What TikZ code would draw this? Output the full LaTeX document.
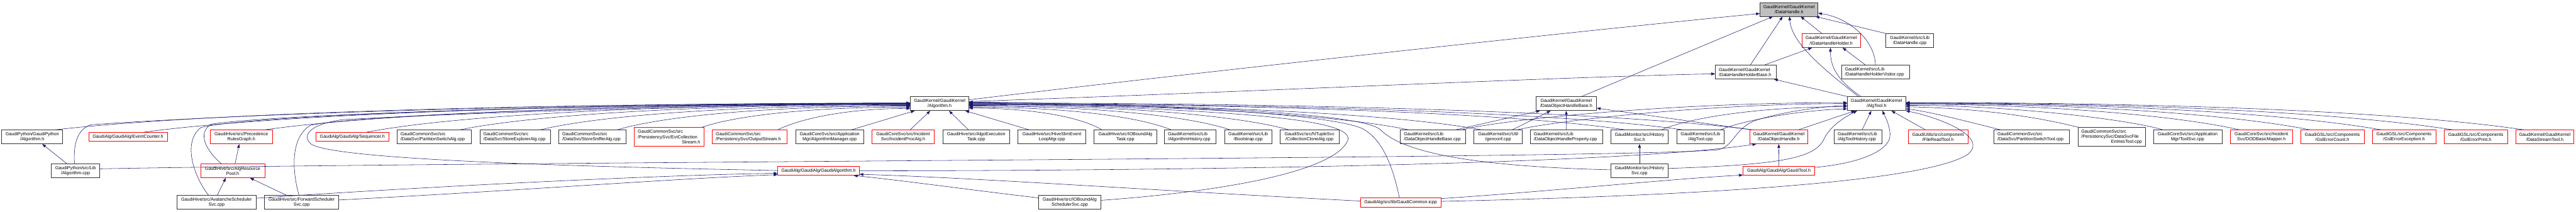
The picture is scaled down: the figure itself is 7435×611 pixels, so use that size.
\documentclass[tikz,border=0pt]{standalone}
\usepackage{fontspec}
\setmainfont{Liberation Sans}
\usetikzlibrary{arrows.meta,calc}
\definecolor{mblue}{RGB}{25,25,112}
\newcommand{\fs}{\fontsize{13}{15}\selectfont}
\newcommand{\gnode}[7]{\node[#6, minimum width={#3-#2}, minimum height={#5-#4}] (#1) at ({(#2+#3)/2},{(#4+#5)/2}) {#7};}
\tikzset{
 nb/.style={draw=black!80, line width=1.2pt, fill=white, inner sep=0pt, font=\fs, align=center},
 nr/.style={nb, draw=red},
 ng/.style={nb, fill=black!25},
 la/.style={align=left, text width=#1pt},
 e/.style={draw=mblue, line width=1pt, -{Triangle[length=11pt,width=8pt]}},
}
\begin{document}
\begin{tikzpicture}[x=1pt,y=-1pt]
\path[fill=white,use as bounding box] (0,0) rectangle (7435,611);
% Row A-C
\gnode{dh}{5080}{5247}{7}{47}{ng}{GaudiKernel/GaudiKernel\\/DataHandle.h}
\gnode{idhh}{5201}{5369}{97}{137}{nr}{GaudiKernel/GaudiKernel\\/IDataHandleHolder.h}
\gnode{dhcpp}{5443}{5581}{97}{137}{nb}{GaudiKernel/src/Lib\\/DataHandle.cpp}
\gnode{dhhb}{4951}{5126}{188}{228}{nb,la=155}{GaudiKernel/GaudiKernel\\/DataHandleHolderBase.h}
\gnode{dhhv}{5315}{5511}{188}{228}{nb,la=176}{GaudiKernel/src/Lib\\/DataHandleHolderVisitor.cpp}
% Row D
\gnode{alg}{2628}{2796}{279}{319}{nb}{GaudiKernel/GaudiKernel\\/Algorithm.h}
\gnode{dohb}{4433}{4608}{279}{319}{nb}{GaudiKernel/GaudiKernel\\/DataObjectHandleBase.h}
\gnode{algtool}{5332}{5500}{279}{319}{nb}{GaudiKernel/GaudiKernel\\/AlgTool.h}
% Row E
\gnode{gpalgh}{5}{181}{375}{415}{nb}{GaudiPython/GaudiPython\\/Algorithm.h}
\gnode{evc}{256}{483}{382}{408}{nr}{GaudiAlg/GaudiAlg/EventCounter.h}
\gnode{prec}{607}{786}{375}{415}{nr}{GaudiHive/src/Precedence\\RulesGraph.h}
\gnode{seq}{912}{1122}{382}{408}{nr}{GaudiAlg/GaudiAlg/Sequencer.h}
\gnode{pswalg}{1146}{1360}{375}{415}{nb,la=194}{GaudiCommonSvc/src\\/DataSvc/PartitionSwitchAlg.cpp}
\gnode{sexp}{1385}{1588}{375}{415}{nb,la=183}{GaudiCommonSvc/src\\/DataSvc/StoreExplorerAlg.cpp}
\gnode{ssnf}{1613}{1807}{375}{415}{nb,la=174}{GaudiCommonSvc/src\\/DataSvc/StoreSnifferAlg.cpp}
\gnode{evtcoll}{1831}{2031}{368}{422}{nr,la=180}{GaudiCommonSvc/src\\/PersistencySvc/EvtCollection\\\hspace*{\fill}Stream.h\hspace*{\fill}}
\gnode{outs}{2056}{2271}{375}{415}{nr,la=195}{GaudiCommonSvc/src\\/PersistencySvc/OutputStream.h}
\gnode{algmgr}{2296}{2493}{375}{415}{nb}{GaudiCoreSvc/src/Application\\Mgr/AlgorithmManager.cpp}
\gnode{incproc}{2517}{2696}{375}{415}{nr}{GaudiCoreSvc/src/Incident\\Svc/IncidentProcAlg.h}
\gnode{algoexec}{2721}{2914}{375}{415}{nb}{GaudiHive/src/AlgoExecution\\Task.cpp}
\gnode{hiveslim}{2938}{3134}{375}{415}{nb}{GaudiHive/src/HiveSlimEvent\\LoopMgr.cpp}
\gnode{iobtask}{3158}{3338}{375}{415}{nb}{GaudiHive/src/IOBoundAlg\\Task.cpp}
\gnode{alghist}{3361}{3510}{375}{415}{nb,la=129}{GaudiKernel/src/Lib\\/AlgorithmHistory.cpp}
\gnode{boot}{3534}{3671}{375}{415}{nb}{GaudiKernel/src/Lib\\/Bootstrap.cpp}
\gnode{collclone}{3694}{3865}{375}{415}{nb}{GaudiSvc/src/NTupleSvc\\/CollectionCloneAlg.cpp}
\gnode{dohbcpp}{4042}{4230}{375}{415}{nb,la=168}{GaudiKernel/src/Lib\\/DataObjectHandleBase.cpp}
\gnode{genconf}{4254}{4394}{375}{415}{nb}{GaudiKernel/src/Util\\/genconf.cpp}
\gnode{dohprop}{4417}{4625}{375}{415}{nb,la=188}{GaudiKernel/src/Lib\\/DataObjectHandleProperty.cpp}
\gnode{histsvch}{4649}{4815}{375}{415}{nb}{GaudiMonitor/src/History\\Svc.h}
\gnode{algtoolcpp}{4840}{4976}{375}{415}{nb}{GaudiKernel/src/Lib\\/AlgTool.cpp}
\gnode{doh}{5050}{5218}{375}{415}{nr}{GaudiKernel/GaudiKernel\\/DataObjectHandle.h}
\gnode{algtoolhist}{5294}{5431}{375}{415}{nb,la=117}{GaudiKernel/src/Lib\\/AlgToolHistory.cpp}
\gnode{filereader}{5507}{5680}{375}{415}{nr}{GaudiUtils/src/component\\/FileReadTool.h}
\gnode{pswtool}{5755}{5973}{375}{415}{nb,la=198}{GaudiCommonSvc/src\\/DataSvc/PartitionSwitchTool.cpp}
\gnode{dsfe}{5997}{6192}{368}{422}{nb,la=175}{GaudiCommonSvc/src\\/PersistencySvc/DataSvcFile\\\hspace*{\fill}EntriesTool.cpp\hspace*{\fill}}
\gnode{toolsvc}{6215}{6413}{375}{415}{nb}{GaudiCoreSvc/src/Application\\Mgr/ToolSvc.cpp}
\gnode{dod}{6438}{6616}{375}{415}{nr}{GaudiCoreSvc/src/Incident\\Svc/DODBasicMapper.h}
\gnode{gslcount}{6640}{6823}{375}{415}{nr}{GaudiGSL/src/Components\\/GslErrorCount.h}
\gnode{gslexc}{6847}{7030}{375}{415}{nr}{GaudiGSL/src/Components\\/GslErrorException.h}
\gnode{gslprint}{7054}{7237}{375}{415}{nr}{GaudiGSL/src/Components\\/GslErrorPrint.h}
\gnode{dst}{7261}{7429}{375}{415}{nr}{GaudiKernel/GaudiKernel\\/DataStreamTool.h}
% Row F
\gnode{gpalgcpp}{148}{288}{473}{513}{nb}{GaudiPython/src/Lib\\/Algorithm.cpp}
\gnode{arp}{579}{764}{473}{513}{nr}{GaudiHive/src/AlgResource\\Pool.h}
\gnode{galg}{2245}{2480}{480}{506}{nr}{GaudiAlg/GaudiAlg/GaudiAlgorithm.h}
\gnode{histsvccpp}{4649}{4815}{473}{513}{nb}{GaudiMonitor/src/History\\Svc.cpp}
\gnode{gtool}{5031}{5238}{480}{506}{nr}{GaudiAlg/GaudiAlg/GaudiTool.h}
% Row G
\gnode{aval}{511}{739}{564}{604}{nb}{GaudiHive/src/AvalancheScheduler\\Svc.cpp}
\gnode{fwd}{763}{978}{564}{604}{nb}{GaudiHive/src/ForwardScheduler\\Svc.cpp}
\gnode{iobsched}{2998}{3177}{564}{604}{nb}{GaudiHive/src/IOBoundAlg\\SchedulerSvc.cpp}
\gnode{gcicpp}{3926}{4159}{571}{597}{nr}{GaudiAlg/src/lib/GaudiCommon.icpp}

% ---- edges to Algorithm.h from the left
\draw[e] ([xshift=67pt]gpalgh.north) .. controls +(370,-42) and +(-1234,0) .. ([yshift=1pt]alg.west);
\draw[e] ([xshift=45.5pt]evc.north) .. controls +(330,-45) and +(-1100,0) .. ([yshift=0pt]alg.west);
\draw[e] ([xshift=68.5pt]prec.north) .. controls +(280,-40) and +(-930,0) .. ([yshift=-1pt]alg.west);
\draw[e] ([xshift=41pt]seq.north) .. controls +(235,-45) and +(-785,0) .. ([yshift=-2pt]alg.west);
\draw[e] ([xshift=75pt]pswalg.north) .. controls +(195,-40) and +(-650,0) .. ([yshift=-3pt]alg.west);
\draw[e] ([xshift=73.5pt]sexp.north) .. controls +(160,-39) and +(-530,0) .. ([yshift=-5pt]alg.west);
\draw[e] ([xshift=72pt]ssnf.north) .. controls +(127,-38) and +(-420,0) .. ([yshift=-7pt]alg.west);
\draw[e] ([xshift=95pt]evtcoll.north) .. controls +(90,-32) and +(-300,0) .. ([yshift=-10pt]alg.west);
\draw[e] ([xshift=81.5pt]outs.north) .. controls +(60,-30) and +(-190,0) .. ([yshift=-14pt]alg.west);
\draw[e] ([xshift=63.5pt]algmgr.north) -- ([xshift=-72pt]alg.south);
\draw[e] ([xshift=20.5pt]incproc.north) -- ([xshift=-27pt]alg.south);
\draw[e] ([xshift=-22.5pt]algoexec.north) -- ([xshift=27pt]alg.south);
\draw[e] ([xshift=-66pt]hiveslim.north) -- ([xshift=74pt]alg.south);
\draw[e] ([xshift=-3pt]gpalgcpp.north) .. controls (212,420) and (220,375) .. (262,360) .. controls (600,335) and (1500,298) .. ([yshift=2pt]alg.west);
\draw[e] ([xshift=-32.5pt]arp.north) .. controls (600,440) and (565,385) .. (610,358) .. controls (800,330) and (1700,300) .. ([yshift=0pt]alg.west);
\draw[e] ([xshift=-23pt]aval.north) .. controls (560,510) and (525,410) .. (580,368) .. controls (700,335) and (1600,299) .. ([yshift=1pt]alg.west);
\draw[e] ([xshift=-7.5pt]fwd.north) .. controls (845,500) and (835,400) .. (895,362) .. controls (1000,335) and (1800,300) .. ([yshift=-1pt]alg.west);
\draw[e] ([yshift=1pt]galg.west) .. controls (1500,478) and (950,455) .. (897,415) .. controls (870,390) and (895,358) .. (990,345) .. controls (1500,318) and (2200,302) .. ([yshift=1pt]alg.west);
% ---- edges to Algorithm.h from the right
\draw[e] ([xshift=-68pt]iobtask.north) .. controls +(-58,-35) and +(190,0) .. ([yshift=-13pt]alg.east);
\draw[e] ([xshift=-55.5pt]alghist.north) .. controls +(-88,-36) and +(290,0) .. ([yshift=-10pt]alg.east);
\draw[e] ([xshift=-52.5pt]boot.north) .. controls +(-113,-38) and +(377,0) .. ([yshift=-7pt]alg.east);
\draw[e] ([xshift=-59.5pt]collclone.north) .. controls +(-140,-39) and +(460,0) .. ([yshift=-5pt]alg.east);
\draw[e] ([xshift=-71pt]dohbcpp.north) .. controls +(-190,-40) and +(635,0) .. ([yshift=-3pt]alg.east);
\draw[e] ([xshift=-49pt]genconf.north) .. controls +(-220,-41) and +(740,0) .. ([yshift=-2pt]alg.east);
\draw[e] ([xshift=-42pt]histsvch.north) .. controls +(-280,-42) and +(950,0) .. ([yshift=-1pt]alg.east);
\draw[e] ([xshift=-52pt]algtoolcpp.north) .. controls +(-300,-43) and +(1030,0) .. ([yshift=0pt]alg.east);
\draw[e] ([xshift=-76pt]doh.north) .. controls +(-340,-44) and +(1130,0) .. ([yshift=2pt]alg.east);
\draw[e] ([yshift=6pt]iobsched.east) .. controls (3500,555) and (3850,500) .. (3890,405) .. controls (3910,345) and (3600,318) .. ([yshift=3pt]alg.east);
\draw[e] ([xshift=-3.5pt]gcicpp.north) .. controls (4020,480) and (3990,400) .. (3930,370) .. controls (3820,325) and (3300,300) .. ([yshift=4pt]alg.east);
\draw[e] ([yshift=3pt]histsvccpp.west) .. controls (4250,480) and (4050,440) .. (3985,375) .. controls (3940,330) and (3500,305) .. ([yshift=5pt]alg.east);
% ---- edges to DataObjectHandleBase.h
\draw[e] ([xshift=66pt]dohbcpp.north) -- ([xshift=-75.5pt]dohb.south);
\draw[e] ([xshift=41pt]genconf.north) -- ([xshift=-45pt]dohb.south);
\draw[e] (dohprop.north) -- (dohb.south);
\draw[e] ([xshift=-80pt]doh.north) -- ([yshift=-13pt]dohb.east);
% ---- edges to AlgTool.h
\draw[e] ([xshift=64pt]histsvch.north) .. controls +(80,-35) and +(-250,0) .. ([yshift=-9pt]algtool.west);
\draw[e] ([xshift=58pt]algtoolcpp.north) .. controls +(60,-25) and +(-150,5) .. ([yshift=-15pt]algtool.west);
\draw[e] ([xshift=84pt]dohbcpp.north) .. controls +(120,-30) and +(-500,0) .. ([yshift=3pt]algtool.west);
\draw[e] ([xshift=56pt]genconf.north) .. controls +(100,-25) and +(-400,0) .. ([yshift=0pt]algtool.west);
\draw[e] ([yshift=6pt]gpalgcpp.east) .. controls (1500,465) and (4700,458) .. (4960,432) .. controls (5005,420) and (5005,375) .. (5060,350) .. controls (5130,325) and (5250,308) .. ([yshift=-5pt]algtool.west);
\draw[e] ([xshift=57pt]doh.north) -- ([xshift=-62pt]algtool.south);
\draw[e] ([yshift=7pt]histsvccpp.east) .. controls (5150,475) and (5240,455) .. (5265,400) .. controls (5285,360) and (5330,335) .. ([xshift=-56pt]algtool.south);
\draw[e] ([xshift=12pt]algtoolhist.north) -- ([xshift=-15pt]algtool.south);
\draw[e] ([yshift=10pt]gtool.east) .. controls (5380,470) and (5460,430) .. (5455,385) .. controls (5452,355) and (5440,335) .. ([xshift=17pt]algtool.south);
\draw[e] ([yshift=3pt]gcicpp.east) .. controls (4900,565) and (5560,525) .. (5680,445) .. controls (5740,395) and (5600,340) .. (algtool.south east);
\draw[e] ([xshift=-36.5pt]filereader.north) -- ([xshift=43pt]algtool.south);
\draw[e] ([xshift=-90pt]pswtool.north) .. controls +(-90,-22) and +(70,8) .. ([yshift=-15pt]algtool.east);
\draw[e] ([xshift=-95pt]dsfe.north) .. controls +(-120,-30) and +(220,5) .. ([yshift=-9pt]algtool.east);
\draw[e] ([xshift=-72pt]toolsvc.north) .. controls +(-100,-30) and +(300,0) .. ([yshift=-5pt]algtool.east);
\draw[e] ([xshift=-64pt]dod.north) .. controls +(-150,-35) and +(450,0) .. ([yshift=-2pt]algtool.east);
\draw[e] ([xshift=-65pt]gslcount.north) .. controls +(-190,-38) and +(560,0) .. ([yshift=0pt]algtool.east);
\draw[e] ([xshift=-66pt]gslexc.north) .. controls +(-230,-40) and +(680,0) .. ([yshift=1pt]algtool.east);
\draw[e] ([xshift=-67pt]gslprint.north) .. controls +(-270,-42) and +(790,0) .. ([yshift=2pt]algtool.east);
\draw[e] ([xshift=-61pt]dst.north) .. controls +(-300,-44) and +(900,0) .. ([yshift=3pt]algtool.east);
% ---- other lower edges
\draw[e] (histsvccpp.north) -- (histsvch.south);
\draw[e] (gtool.north) -- (doh.south);
\draw[e] (galg.east) .. controls (3600,492) and (4700,470) .. ([xshift=-65pt]doh.south);
\draw[e] ([yshift=4pt]gcicpp.west) .. controls (3300,548) and (2800,512) .. ([yshift=-10pt]galg.east);
\draw[e] ([yshift=11pt]gcicpp.east) .. controls (4500,550) and (4800,518) .. ([yshift=-12pt]gtool.west);
\draw[e] ([yshift=13pt]iobsched.west) .. controls (2800,548) and (2600,520) .. ([xshift=101.5pt]galg.south);
\draw[e] ([yshift=12pt]aval.east) .. controls (1200,540) and (1900,505) .. ([yshift=-7pt]galg.west);
\draw[e] ([yshift=7pt]fwd.east) .. controls (1500,550) and (1950,515) .. ([yshift=-11pt]galg.west);
\draw[e] ([xshift=-25pt]gpalgcpp.north) -- ([xshift=29pt]gpalgh.south);
\draw[e] ([xshift=7pt]arp.north) -- ([xshift=-6pt]prec.south);
\draw[e] ([xshift=2pt]aval.north) -- ([xshift=-20pt]arp.south);
\draw[e] ([xshift=-43.5pt]fwd.north) -- ([xshift=50pt]arp.south);
% ---- top cluster
\draw[e] ([yshift=11pt]alg.east) .. controls (3400,215) and (4600,85) .. ([yshift=-12pt]dh.west);
\draw[e] ([yshift=6pt]alg.east) .. controls (3600,265) and (4500,222) .. ([yshift=-5pt]dhhb.west);
\draw[e] ([xshift=44.5pt]dohb.north) -- ([xshift=-46.5pt]dh.south);
\draw[e] ([xshift=13.5pt]dhhb.north) -- ([xshift=-18.5pt]dh.south);
\draw[e] ([xshift=-52pt]algtool.north) .. controls (5250,190) and (5170,120) .. ([xshift=1.5pt]dh.south);
\draw[e] ([xshift=-27pt]idhh.north) -- ([xshift=33.5pt]dh.south);
\draw[e] (dhcpp.north west) -- ([xshift=76.5pt]dh.south);
\draw[e] (dhhv.north) .. controls (5410,110) and (5330,50) .. ([yshift=-11pt]dh.east);
\draw[e] ([xshift=54.5pt]dhhb.north) -- ([xshift=-55pt]idhh.south);
\draw[e] ([xshift=-45pt]algtool.north) .. controls (5300,230) and (5283,190) .. ([xshift=-2pt]idhh.south);
\draw[e] ([xshift=-29pt]dhhv.north) -- ([xshift=33pt]idhh.south);
\draw[e] (algtool.north west) -- ([xshift=81.5pt]dhhb.south);
\end{tikzpicture}
\end{document}
